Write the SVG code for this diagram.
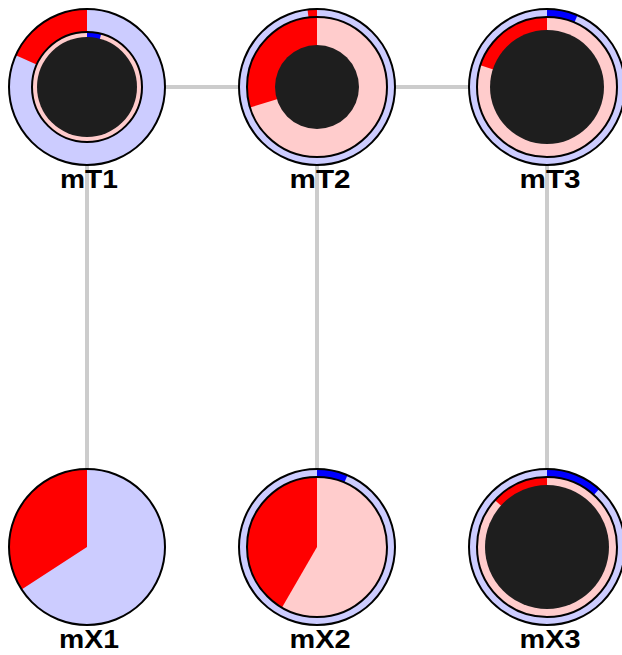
<svg xmlns="http://www.w3.org/2000/svg" width="622" height="655" viewBox="0 0 622 655">
<style>
.edge{stroke:#cccccc;stroke-width:4;fill:none}
.lav{fill:#ccccff}
.pink{fill:#ffcccc}
.red{fill:#ff0000}
.blue{fill:#0000ff}
.dark{fill:#1e1e1e}
.ol{fill:none;stroke:#000000;stroke-width:2}
.lbl{font-family:"Liberation Sans",Arial,sans-serif;font-weight:bold;font-size:25px;fill:#000000;text-anchor:middle}
</style>
<rect width="622" height="655" fill="#ffffff"/>
<g id="edges">
<line class="edge" x1="87" y1="87" x2="317" y2="87"/>
<line class="edge" x1="317" y1="87" x2="547" y2="87"/>
<line class="edge" x1="87" y1="87" x2="87" y2="547"/>
<line class="edge" x1="317" y1="87" x2="317" y2="547"/>
<line class="edge" x1="547" y1="87" x2="547" y2="547"/>
</g>
<g id="mT1">
<circle class="lav" cx="87" cy="87" r="78"/>
<path class="red" d="M87,87 L15.75,55.3 A78,78 0 0 1 87,9 Z"/>
<circle class="pink" cx="87" cy="87" r="55"/>
<path class="blue" d="M87,87 L87,32 A55,55 0 0 1 101.23,33.87 Z"/>
<circle class="ol" cx="87" cy="87" r="78"/>
<circle class="ol" cx="87" cy="87" r="55"/>
<circle class="dark" cx="87" cy="87" r="50"/>
<text class="lbl" x="89" y="188" textLength="58" lengthAdjust="spacingAndGlyphs">mT1</text>
</g>
<g id="mT2">
<circle class="lav" cx="317" cy="87" r="78"/>
<path class="red" d="M317,87 L307.5,9.58 A78,78 0 0 1 317,9 Z"/>
<circle class="pink" cx="317" cy="87" r="70"/>
<path class="red" d="M317,87 L250.06,107.47 A70,70 0 0 1 317,17 Z"/>
<circle class="ol" cx="317" cy="87" r="78"/>
<circle class="ol" cx="317" cy="87" r="70"/>
<circle class="dark" cx="317" cy="87" r="42"/>
<text class="lbl" x="320" y="188" textLength="61" lengthAdjust="spacingAndGlyphs">mT2</text>
</g>
<g id="mT3">
<circle class="lav" cx="547" cy="87" r="78"/>
<path class="blue" d="M547,87 L547,9 A78,78 0 0 1 577.48,15.2 Z"/>
<circle class="pink" cx="547" cy="87" r="70"/>
<path class="red" d="M547,87 L480.43,65.37 A70,70 0 0 1 547,17 Z"/>
<circle class="ol" cx="547" cy="87" r="78"/>
<circle class="ol" cx="547" cy="87" r="70"/>
<circle class="dark" cx="547" cy="87" r="57"/>
<text class="lbl" x="550" y="188" textLength="61" lengthAdjust="spacingAndGlyphs">mT3</text>
</g>
<g id="mX1">
<circle class="lav" cx="87" cy="547" r="78"/>
<path class="red" d="M87,547 L21.58,589.48 A78,78 0 0 1 87,469 Z"/>
<circle class="ol" cx="87" cy="547" r="78"/>
<text class="lbl" x="89" y="648" textLength="60" lengthAdjust="spacingAndGlyphs">mX1</text>
</g>
<g id="mX2">
<circle class="lav" cx="317" cy="547" r="78"/>
<path class="blue" d="M317,547 L317,469 A78,78 0 0 1 347.48,475.2 Z"/>
<circle class="pink" cx="317" cy="547" r="70"/>
<path class="red" d="M317,547 L282,607.62 A70,70 0 0 1 317,477 Z"/>
<circle class="ol" cx="317" cy="547" r="78"/>
<circle class="ol" cx="317" cy="547" r="70"/>
<text class="lbl" x="320" y="648" textLength="61" lengthAdjust="spacingAndGlyphs">mX2</text>
</g>
<g id="mX3">
<circle class="lav" cx="547" cy="547" r="78"/>
<path class="blue" d="M547,547 L547,469 A78,78 0 0 1 599.19,489.04 Z"/>
<circle class="pink" cx="547" cy="547" r="70"/>
<path class="red" d="M547,547 L494.98,500.16 A70,70 0 0 1 547,477 Z"/>
<circle class="ol" cx="547" cy="547" r="78"/>
<circle class="ol" cx="547" cy="547" r="70"/>
<circle class="dark" cx="547" cy="547" r="62"/>
<text class="lbl" x="550" y="648" textLength="61" lengthAdjust="spacingAndGlyphs">mX3</text>
</g>
</svg>
